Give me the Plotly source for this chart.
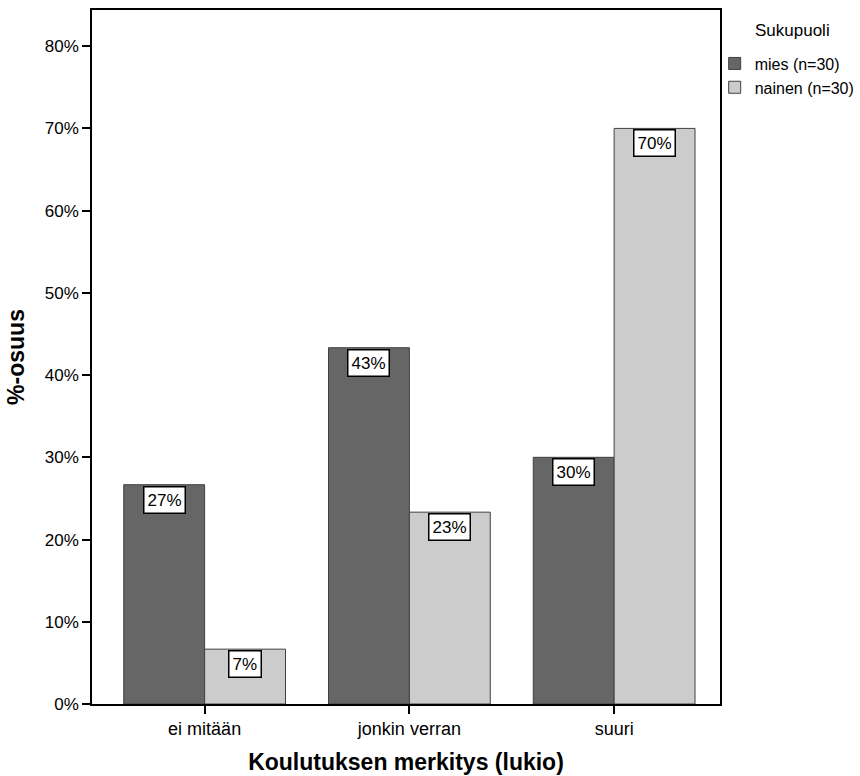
import plotly.graph_objects as go

categories = ["ei mitään", "jonkin verran", "suuri"]
mies = [26.67, 43.33, 30.0]
nainen = [6.67, 23.33, 70.0]
mies_labels = ["27%", "43%", "30%"]
nainen_labels = ["7%", "23%", "70%"]
series_names = ["mies (n=30)", "nainen (n=30)"]
legend_title = "Sukupuoli"
y_ticks = [0, 10, 20, 30, 40, 50, 60, 70, 80]
y_ticktext = ["0%", "10%", "20%", "30%", "40%", "50%", "60%", "70%", "80%"]

FONT = "Liberation Sans, Arial, sans-serif"

fig = go.Figure()
fig.add_trace(go.Bar(x=categories, y=mies, name=series_names[0],
                     marker=dict(color="#666666", line=dict(color="#404040", width=1))))
fig.add_trace(go.Bar(x=categories, y=nainen, name=series_names[1],
                     marker=dict(color="#cccccc", line=dict(color="#404040", width=1))))

half = (1 - 0.21) / 4
for i in range(len(categories)):
    for vals, labs, off in ((mies, mies_labels, -half), (nainen, nainen_labels, half)):
        fig.add_annotation(x=i + off, y=vals[i], xref="x", yref="y", text=labs[i],
                           showarrow=False, yanchor="top", yshift=-1,
                           bgcolor="white", bordercolor="black", borderwidth=1.5,
                           borderpad=3, font=dict(family=FONT, size=17, color="black"))

fig.add_annotation(text=legend_title, xref="paper", yref="paper", x=1.115, y=0.971,
                   xanchor="center", yanchor="middle", showarrow=False,
                   font=dict(family=FONT, size=17, color="black"))

fig.update_layout(
    width=860, height=776,
    margin=dict(l=92, r=140, t=10, b=72, autoexpand=False),
    paper_bgcolor="white", plot_bgcolor="white",
    barmode="group", bargap=0.21, bargroupgap=0,
    font=dict(family=FONT, size=17, color="black"),
    legend=dict(xref="container", yref="container", x=0.831, xanchor="left",
                y=0.940, yanchor="top", bgcolor="rgba(0,0,0,0)",
                font=dict(size=16), tracegroupgap=0, itemwidth=30),
    showlegend=True,
)
fig.update_xaxes(type="category", range=[-0.55, 2.517], showline=True, linecolor="black",
                 linewidth=1.5, mirror=True, ticks="outside", ticklen=8, tickwidth=2,
                 tickcolor="black", tickfont=dict(size=18),
                 title=dict(text="<b>Koulutuksen merkitys (lukio)</b>", font=dict(size=23), standoff=16))
fig.update_yaxes(range=[0, 84.4], tickmode="array", tickvals=y_ticks, ticktext=y_ticktext,
                 showline=True,
                 linecolor="black", linewidth=1.5, mirror=True, ticks="outside", ticklen=8,
                 tickwidth=2, tickcolor="black", showgrid=False, zeroline=False,
                 title=dict(text="<b>%-osuus</b>", font=dict(size=23), standoff=14))

fig.write_html("out.html")
